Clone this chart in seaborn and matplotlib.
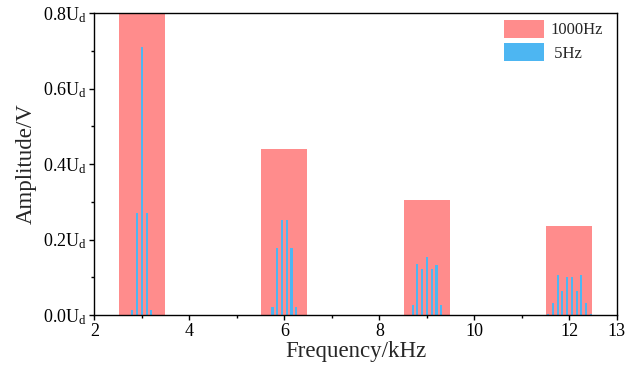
import numpy as np
import pandas as pd
import matplotlib
matplotlib.use('Agg')
import matplotlib.pyplot as plt
import seaborn as sns
from matplotlib.patches import Patch
from matplotlib.ticker import MultipleLocator

# Harmonic envelopes (1000Hz) - centre frequency in kHz, amplitude in Ud
harmonic_centers = [3, 6, 9, 12]
envelope_1000hz = [0.80, 0.44, 0.305, 0.236]

# Sideband spectrum (5Hz)
freq_5hz = [2.8, 2.9, 3.0, 3.1, 3.2,
            5.75, 5.85, 5.95, 6.05, 6.15, 6.25,
            8.7, 8.8, 8.9, 9.0, 9.1, 9.2, 9.3,
            11.55, 11.65, 11.75, 11.85, 11.95, 12.05, 12.15, 12.25, 12.35, 12.45]
amp_5hz = [0.013, 0.27, 0.71, 0.27, 0.013,
           0.02, 0.177, 0.252, 0.252, 0.177, 0.02,
           0.026, 0.134, 0.123, 0.155, 0.123, 0.133, 0.026,
           0.003, 0.031, 0.106, 0.064, 0.102, 0.102, 0.064, 0.106, 0.031, 0.003]

x_ticks = [2, 4, 6, 8, 10, 12, 13]
y_ticks = [0.0, 0.2, 0.4, 0.6, 0.8]
y_tick_labels = [r'0.0U$_\mathregular{d}$', r'0.2U$_\mathregular{d}$', r'0.4U$_\mathregular{d}$',
                 r'0.6U$_\mathregular{d}$', r'0.8U$_\mathregular{d}$']

red = '#FF8C8C'
blue = '#4DB6F2'

sns.set_style('ticks')
plt.rcParams['font.family'] = ['Liberation Serif', 'DejaVu Serif']
plt.rcParams['mathtext.fontset'] = 'stix'

fig = plt.figure(figsize=(6.42, 3.75), dpi=100)
ax = fig.add_axes([0.147, 0.16, 0.814, 0.805])

env_df = pd.DataFrame({'f': harmonic_centers, 'a': envelope_1000hz})
side_df = pd.DataFrame({'f': freq_5hz, 'a': amp_5hz})

# seaborn native scale width is relative to the smallest spacing between positions
env_w = 0.97 / np.min(np.diff(sorted(harmonic_centers)))
side_w = 0.045 / np.min(np.diff(sorted(freq_5hz)))

sns.barplot(data=env_df, x='f', y='a', native_scale=True, width=env_w, color=red,
            saturation=1, errorbar=None, linewidth=0, ax=ax, zorder=1)
sns.barplot(data=side_df, x='f', y='a', native_scale=True, width=side_w, color=blue,
            saturation=1, errorbar=None, linewidth=0, ax=ax, zorder=2)

ax.set_xlim(2, 13)
ax.set_ylim(0, 0.8)
ax.set_xticks(x_ticks)
ax.set_xticklabels([str(t) for t in x_ticks])
ax.xaxis.set_minor_locator(MultipleLocator(1))
ax.set_yticks(y_ticks)
ax.set_yticklabels(y_tick_labels)
ax.yaxis.set_minor_locator(MultipleLocator(0.1))

ax.tick_params(axis='both', which='major', direction='out', length=3.5, width=1,
               labelsize=13, color='black', labelcolor='black', pad=2)
ax.tick_params(axis='both', which='minor', direction='out', length=2.5, width=1, color='black')
ax.tick_params(top=False, right=False, which='both')
for side in ['top', 'right', 'bottom', 'left']:
    ax.spines[side].set_visible(True)
    ax.spines[side].set_linewidth(1.0)
    ax.spines[side].set_color('black')

ax.set_xlabel('Frequency/kHz', fontsize=16.5, labelpad=1)
ax.set_ylabel('Amplitude/V', fontsize=16.5, labelpad=4)

handles = [Patch(facecolor=red, edgecolor='none', label='1000Hz'),
           Patch(facecolor=blue, edgecolor='none', label=' 5Hz')]
ax.legend(handles=handles, loc='upper left', bbox_to_anchor=(0.775, 0.995), frameon=False,
          fontsize=12, handlelength=2.4, handleheight=1.3, handletextpad=0.35,
          labelspacing=0.3, borderaxespad=0, borderpad=0.3)

fig.savefig('out.png', dpi=100)
